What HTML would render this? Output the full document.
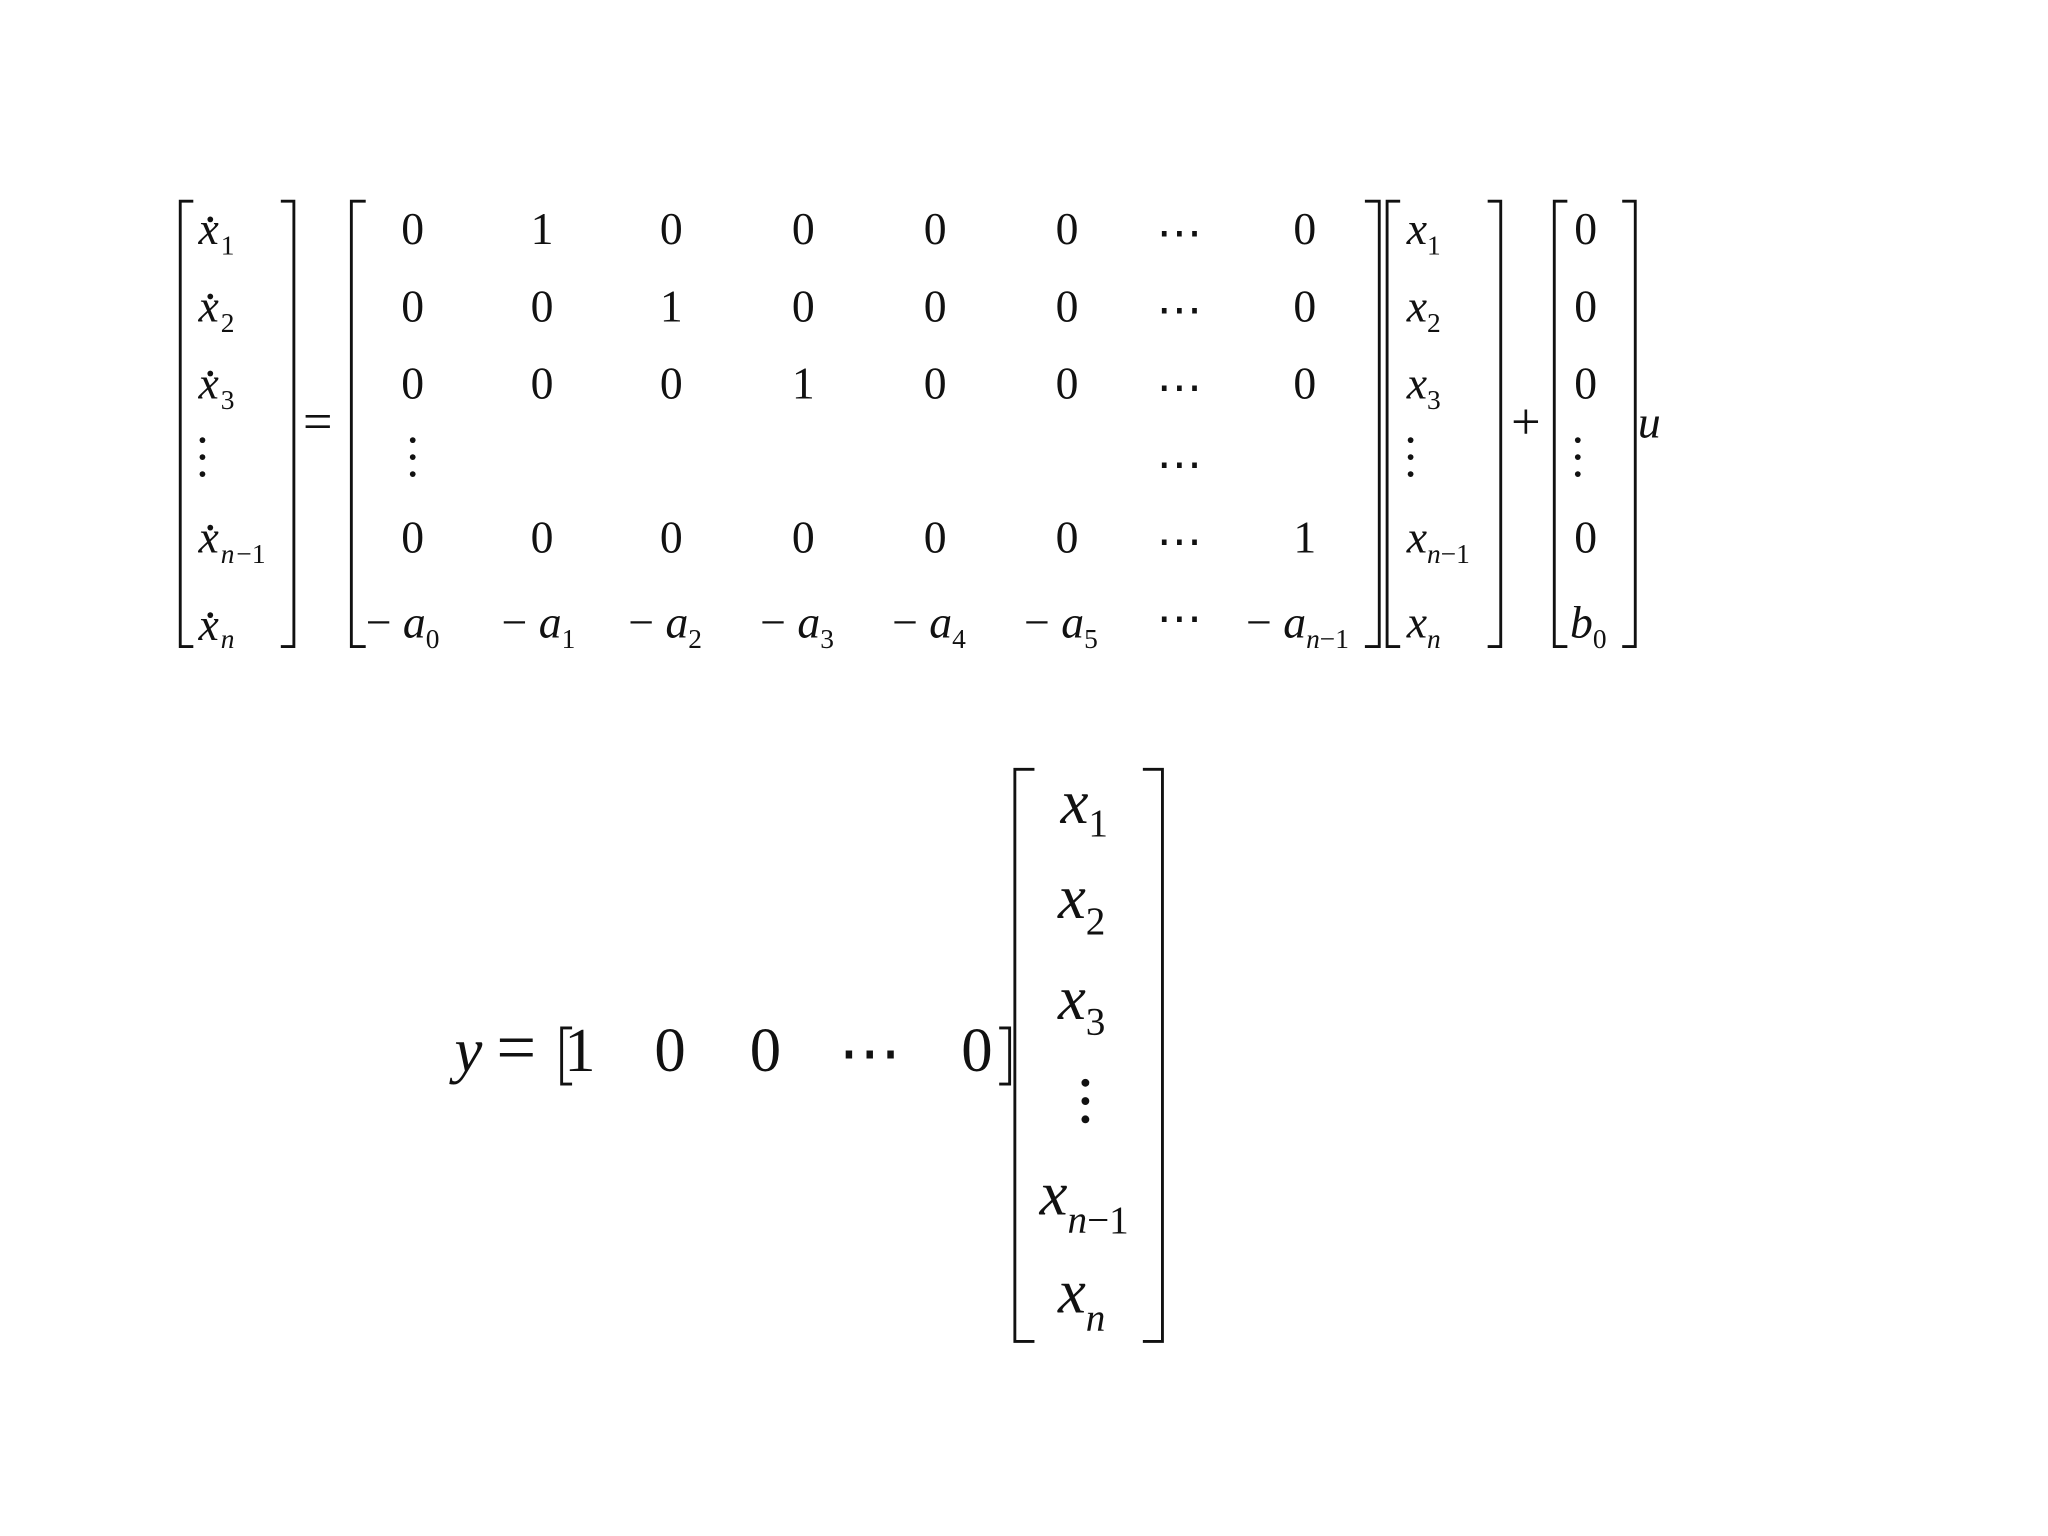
<!DOCTYPE html>
<html><head><meta charset="utf-8"><style>
html,body{margin:0;padding:0;background:#fff;}
svg{display:block}
text{font-family:"Liberation Serif",serif;fill:#111;}
.i{font-style:italic}
</style></head><body>
<svg width="2048" height="1536" viewBox="0 0 1568 1176" xmlns="http://www.w3.org/2000/svg">
<g stroke="#111" stroke-width="2.2" fill="none">
<path d="M148,154 H138 V495 H148"/><path d="M215,154 H225 V495 H215"/>
<path d="M280,154 H269 V495 H280"/><path d="M1045,154 H1056 V495 H1045"/>
<path d="M1072,154 H1062 V495 H1072"/><path d="M1139,154 H1149 V495 H1139"/>
<path d="M1200,154 H1190 V495 H1200"/><path d="M1242,154 H1252 V495 H1242"/>
<path d="M438,787 H430 V830 H438"/><path d="M765,787 H773 V830 H765"/>
<path d="M792,589 H777 V1027 H792"/><path d="M875,589 H890 V1027 H875"/>
</g>
<g font-size="35">
<g class="i">
<text x="152" y="187">x</text><text x="152" y="246">x</text><text x="152" y="305">x</text><text x="152" y="423">x</text><text x="152" y="490">x</text>
</g>
<g font-size="21">
<text x="169" y="195">1</text><text x="169" y="254">2</text><text x="169" y="313">3</text><text x="169" y="431" class="i">n</text><text x="181" y="431">−1</text><text x="169" y="496" class="i">n</text>
</g>
<g fill="#111"><circle cx="161" cy="168" r="2.2"/><circle cx="161" cy="227" r="2.2"/><circle cx="161" cy="286" r="2.2"/><circle cx="161" cy="404" r="2.2"/><circle cx="161" cy="471" r="2.2"/>
<circle cx="155" cy="337" r="2.2"/><circle cx="155" cy="350" r="2.2"/><circle cx="155" cy="363" r="2.2"/>
<circle cx="316" cy="337" r="2.2"/><circle cx="316" cy="350" r="2.2"/><circle cx="316" cy="363" r="2.2"/>
<circle cx="1080" cy="337" r="2.2"/><circle cx="1080" cy="350" r="2.2"/><circle cx="1080" cy="363" r="2.2"/>
<circle cx="1208" cy="337" r="2.2"/><circle cx="1208" cy="350" r="2.2"/><circle cx="1208" cy="363" r="2.2"/>
</g>
<text x="232" y="336" font-size="40">=</text>
<g text-anchor="middle">
<text x="316" y="187">0</text><text x="415" y="187">1</text><text x="514" y="187">0</text><text x="615" y="187">0</text><text x="716" y="187">0</text><text x="817" y="187">0</text><text x="903" y="190">⋯</text><text x="999" y="187">0</text>
<text x="316" y="246">0</text><text x="415" y="246">0</text><text x="514" y="246">1</text><text x="615" y="246">0</text><text x="716" y="246">0</text><text x="817" y="246">0</text><text x="903" y="249">⋯</text><text x="999" y="246">0</text>
<text x="316" y="305">0</text><text x="415" y="305">0</text><text x="514" y="305">0</text><text x="615" y="305">1</text><text x="716" y="305">0</text><text x="817" y="305">0</text><text x="903" y="308">⋯</text><text x="999" y="305">0</text>
<text x="903" y="367">⋯</text>
<text x="316" y="423">0</text><text x="415" y="423">0</text><text x="514" y="423">0</text><text x="615" y="423">0</text><text x="716" y="423">0</text><text x="817" y="423">0</text><text x="903" y="426">⋯</text><text x="999" y="423">1</text>
<text x="903" y="485">⋯</text>
</g>
<text x="280" y="488">− <tspan class="i">a</tspan><tspan font-size="21" dy="8">0</tspan></text>
<text x="384" y="488">− <tspan class="i">a</tspan><tspan font-size="21" dy="8">1</tspan></text>
<text x="481" y="488">− <tspan class="i">a</tspan><tspan font-size="21" dy="8">2</tspan></text>
<text x="582" y="488">− <tspan class="i">a</tspan><tspan font-size="21" dy="8">3</tspan></text>
<text x="683" y="488">− <tspan class="i">a</tspan><tspan font-size="21" dy="8">4</tspan></text>
<text x="784" y="488">− <tspan class="i">a</tspan><tspan font-size="21" dy="8">5</tspan></text>
<text x="954" y="488">− <tspan class="i">a</tspan><tspan font-size="21" dy="8" class="i">n</tspan><tspan font-size="21">−1</tspan></text>
<text x="1077" y="187"><tspan class="i">x</tspan><tspan font-size="21" dy="8">1</tspan></text>
<text x="1077" y="246"><tspan class="i">x</tspan><tspan font-size="21" dy="8">2</tspan></text>
<text x="1077" y="305"><tspan class="i">x</tspan><tspan font-size="21" dy="8">3</tspan></text>
<text x="1077" y="423"><tspan class="i">x</tspan><tspan font-size="21" dy="8" class="i">n</tspan><tspan font-size="21">−1</tspan></text>
<text x="1077" y="488"><tspan class="i">x</tspan><tspan font-size="21" dy="8" class="i">n</tspan></text>
<text x="1157" y="336" font-size="40">+</text>
<g text-anchor="middle">
<text x="1214" y="187">0</text><text x="1214" y="246">0</text><text x="1214" y="305">0</text><text x="1214" y="423">0</text>
</g>
<text x="1202" y="488"><tspan class="i">b</tspan><tspan font-size="21" dy="8">0</tspan></text>
<text x="1254" y="335" class="i">u</text>
</g>
<g font-size="48">
<text x="348" y="820" class="i">y</text>
<text x="380" y="820" font-size="54">=</text>
<text x="432" y="820">1</text>
<text x="501" y="820">0</text>
<text x="574" y="820">0</text>
<text x="642" y="822">⋯</text>
<text x="736" y="820">0</text>
<text x="812" y="630"><tspan class="i">x</tspan><tspan font-size="30" dy="10">1</tspan></text>
<text x="810" y="703"><tspan class="i">x</tspan><tspan font-size="30" dy="12">2</tspan></text>
<text x="810" y="780"><tspan class="i">x</tspan><tspan font-size="30" dy="12">3</tspan></text>
<text x="796" y="930"><tspan class="i">x</tspan><tspan font-size="30" dy="14" class="i">n</tspan><tspan font-size="30">−1</tspan></text>
<text x="810" y="1005"><tspan class="i">x</tspan><tspan font-size="30" dy="14" class="i">n</tspan></text>
</g>
<g fill="#111"><circle cx="831" cy="829" r="3"/><circle cx="831" cy="843" r="3"/><circle cx="831" cy="857" r="3"/></g>
</svg>
</body></html>
